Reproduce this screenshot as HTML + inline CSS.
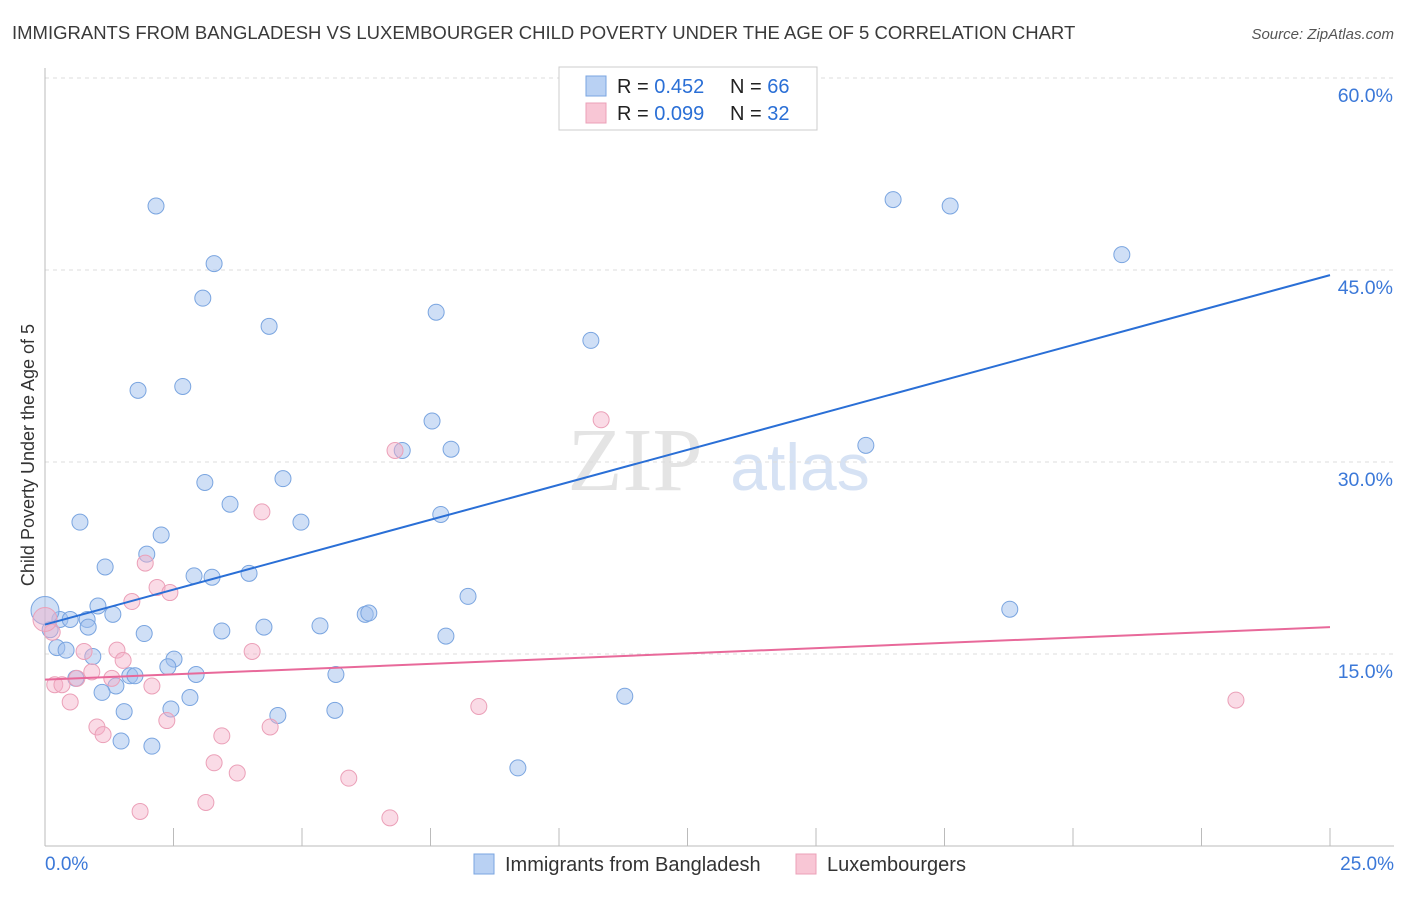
<!DOCTYPE html>
<html><head><meta charset="utf-8"><style>
body{margin:0;background:#fff;font-family:"Liberation Sans",sans-serif;}
</style></head><body>
<svg width="1406" height="892" viewBox="0 0 1406 892" xmlns="http://www.w3.org/2000/svg">
<text x="12" y="39" font-size="18.5" fill="#3a3a3a">IMMIGRANTS FROM BANGLADESH VS LUXEMBOURGER CHILD POVERTY UNDER THE AGE OF 5 CORRELATION CHART</text>
<text x="1394" y="39" font-size="15" fill="#555" font-style="italic" text-anchor="end">Source: ZipAtlas.com</text>
<text x="635" y="490" font-size="90" fill="#e4e4e4" font-family="Liberation Serif,serif" text-anchor="middle">ZIP</text>
<text x="800" y="490" font-size="66" fill="#d6e2f4" text-anchor="middle">atlas</text>
<g id="grid"></g>
<g id="marks"></g>
<text x="34" y="455" font-size="18" fill="#333" text-anchor="middle" transform="rotate(-90 34 455)">Child Poverty Under the Age of 5</text>
<g>
<rect x="559" y="67" width="258" height="63" fill="#fff" stroke="#ccc"/>
<rect x="586" y="76" width="20" height="20" fill="#b9d1f3" stroke="#7aa5e0"/>
<rect x="586" y="103" width="20" height="20" fill="#f8c6d5" stroke="#eba0b8"/>
<text x="617" y="93" font-size="20" fill="#222">R = <tspan fill="#2a6fd6">0.452</tspan></text>
<text x="730" y="93" font-size="20" fill="#222">N = <tspan fill="#2a6fd6">66</tspan></text>
<text x="617" y="120" font-size="20" fill="#222">R = <tspan fill="#2a6fd6">0.099</tspan></text>
<text x="730" y="120" font-size="20" fill="#222">N = <tspan fill="#2a6fd6">32</tspan></text>
</g>
<g>
<rect x="474" y="854" width="20" height="20" fill="#b9d1f3" stroke="#7aa5e0"/>
<text x="505" y="871" font-size="20" fill="#333">Immigrants from Bangladesh</text>
<rect x="796" y="854" width="20" height="20" fill="#f8c6d5" stroke="#eba0b8"/>
<text x="827" y="871" font-size="20" fill="#333">Luxembourgers</text>
</g>
</svg>
<script>
const yTicks=[15,30,45,60];
const xTickLabels=["0.0%","25.0%"];
const blueX=[2.16,3.29,3.07,4.36,7.61,10.62,16.5,17.61,20.95,1.81,2.68,7.53,6.95,7.9,15.97,3.11,4.63,3.6,0.68,4.98,7.7,2.26,1.98,1.17,2.9,3.25,3.97,8.23,1.03,1.32,0.29,0.49,0.82,0.84,1.93,3.44,4.26,5.35,6.23,6.3,7.8,18.77,0.1,0.23,0.41,0.93,2.51,2.39,2.94,5.66,0.6,1.65,1.75,1.38,1.11,2.82,2.45,1.54,4.53,5.64,11.28,1.48,2.08,9.2,0];
const blueY=[50.0,45.5,42.8,40.6,41.7,39.5,50.5,50.0,46.2,35.6,35.9,33.2,30.9,31.0,31.3,28.4,28.7,26.7,25.3,25.3,25.9,24.3,22.8,21.8,21.1,21.0,21.3,19.5,18.75,18.1,17.7,17.7,17.7,17.1,16.6,16.8,17.1,17.2,18.1,18.2,16.4,18.5,16.9,15.5,15.3,14.8,14.6,14.0,13.4,13.4,13.1,13.3,13.3,12.5,12.0,11.6,10.7,10.5,10.2,10.6,11.7,8.2,7.8,6.1,18.4];
const pinkX=[0.14,0.19,0.33,0.49,0.62,0.76,0.91,1.01,1.13,1.3,1.4,1.52,1.69,1.95,2.08,2.18,2.43,2.37,3.13,3.29,3.44,3.74,4.03,4.22,4.38,5.91,6.71,6.81,8.44,10.82,23.17,1.85,0];
const pinkY=[16.7,12.6,12.6,11.25,13.1,15.2,13.6,9.3,8.7,13.1,15.3,14.5,19.1,22.1,12.5,20.2,19.8,9.8,3.4,6.5,8.6,5.7,15.2,26.1,9.3,5.3,2.2,30.9,10.9,33.3,11.4,2.7,17.7];
const blueLine=[17.3,44.6];
const pinkLine=[13.0,17.1];
const X=v=>45+v*51.4, Y=v=>846-v*12.8;
const NS="http://www.w3.org/2000/svg";
const grid=document.getElementById('grid'), marks=document.getElementById('marks');
function mk(tag,attrs,parent){const e=document.createElementNS(NS,tag);for(const k in attrs)e.setAttribute(k,attrs[k]);parent.appendChild(e);return e;}
yTicks.forEach(t=>{
 const l=mk('line',{x1:45,x2:1394,y1:Y(t),y2:Y(t),stroke:'#ddd','stroke-dasharray':'4 4'},grid);
 
 
 const tx=mk('text',{x:1393,y:Y(t)+24,'font-size':19.5,fill:'#3b78d8','text-anchor':'end'},grid);
 tx.textContent=t.toFixed(1)+'%';
 
 
});
const ax=mk('line',{x1:45,x2:1394,y1:846,y2:846,stroke:'#bbb'},grid);


const ay=mk('line',{x1:45,x2:45,y1:68,y2:846,stroke:'#bbb'},grid);


for(let i=0;i<=10;i++){
 const t=mk('line',{x1:X(i*2.5),x2:X(i*2.5),y1:828,y2:846,stroke:'#bbb'},grid);
 
 
}
[[0,'start',45],[1,'end',1394]].forEach(([i,a,x])=>{
 const t=mk('text',{x:x,y:870,'font-size':19,fill:'#3b78d8','text-anchor':a},grid);
 t.textContent=xTickLabels[i];
 
 
});
blueX.forEach((v,i)=>{
 const c=mk('circle',{cx:X(v),cy:Y(blueY[i]),r:(i===blueX.length-1)?14:8,fill:'rgba(160,192,238,0.5)',stroke:'#7aa5e0','stroke-width':1},marks);
 
 
});
pinkX.forEach((v,i)=>{
 const c=mk('circle',{cx:X(v),cy:Y(pinkY[i]),r:(i===pinkX.length-1)?12:8,fill:'rgba(245,175,200,0.45)',stroke:'#eba0b8','stroke-width':1},marks);
 
 
});
const bl=mk('line',{x1:X(0),x2:X(25),y1:Y(blueLine[0]),y2:Y(blueLine[1]),stroke:'#2a6fd6','stroke-width':2},marks);


const pl=mk('line',{x1:X(0),x2:X(25),y1:Y(pinkLine[0]),y2:Y(pinkLine[1]),stroke:'#e8699a','stroke-width':2},marks);


</script>
</body></html>
